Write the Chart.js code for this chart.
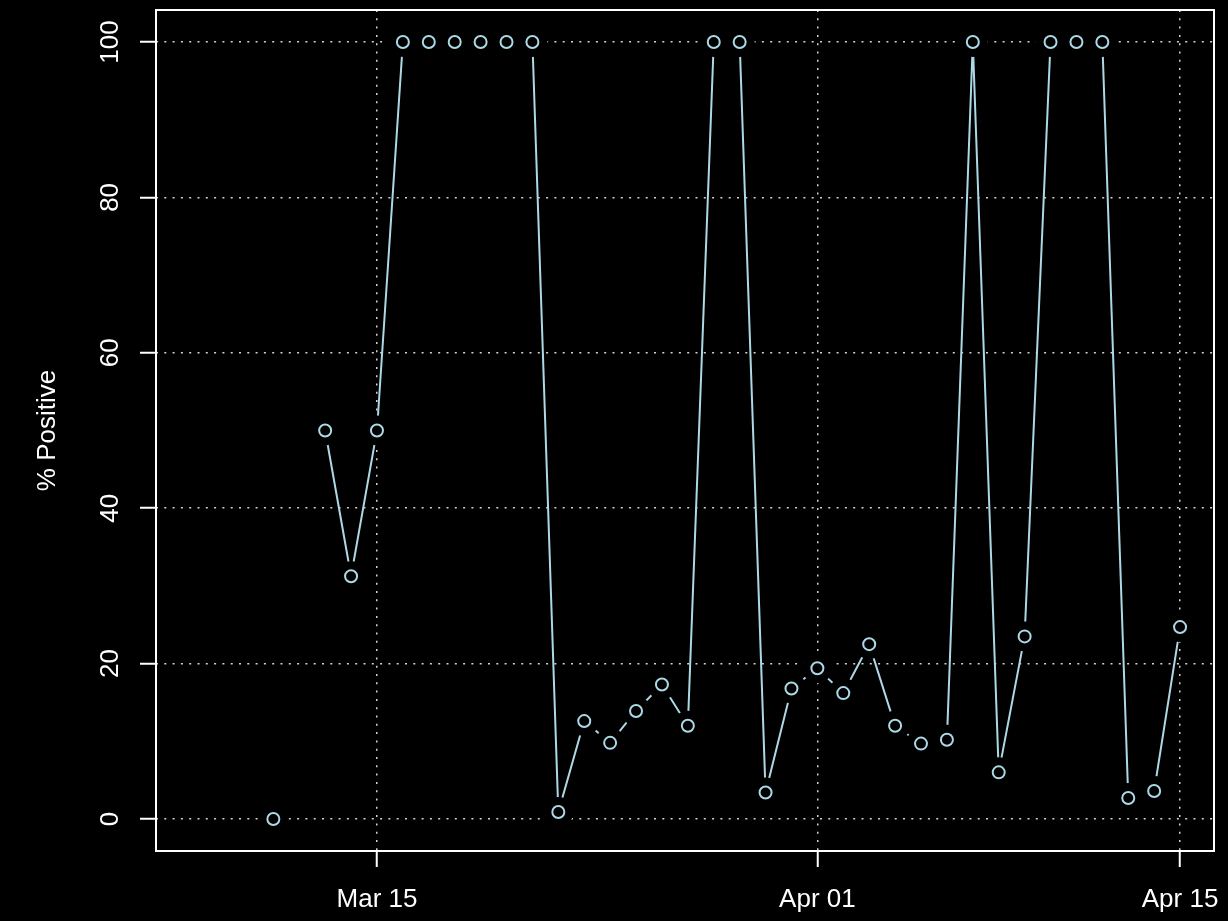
<!DOCTYPE html>
<html>
<head>
<meta charset="utf-8">
<script src="https://cdn.jsdelivr.net/npm/chart.js@4"></script>
<style>
  html, body { margin: 0; padding: 0; background: #000; }
  canvas { display: block; }
</style>
</head>
<body>
<canvas id="posChart" width="1228" height="921"></canvas>
<script>
// data (one value per day, null = no result that day)
const dates = [
    '2020-03-11', '2020-03-12', '2020-03-13', '2020-03-14', '2020-03-15', '2020-03-16',
    '2020-03-17', '2020-03-18', '2020-03-19', '2020-03-20', '2020-03-21', '2020-03-22',
    '2020-03-23', '2020-03-24', '2020-03-25', '2020-03-26', '2020-03-27', '2020-03-28',
    '2020-03-29', '2020-03-30', '2020-03-31', '2020-04-01', '2020-04-02', '2020-04-03',
    '2020-04-04', '2020-04-05', '2020-04-06', '2020-04-07', '2020-04-08', '2020-04-09',
    '2020-04-10', '2020-04-11', '2020-04-12', '2020-04-13', '2020-04-14', '2020-04-15'
];
const pctPositive = [
    0, null, 50, 31.25, 50, 100,
    100, 100, 100, 100, 100, 0.9,
    12.6, 9.8, 13.9, 17.3, 12.0, 100,
    100, 3.4, 16.8, 19.4, 16.2, 22.5,
    12.0, 9.7, 10.2, 100, 6.0, 23.5,
    100, 100, 100, 2.7, 3.6, 24.7
];
const xTickDates = ['2020-03-15', '2020-04-01', '2020-04-15'];
const xTickLabels = ['Mar 15', 'Apr 01', 'Apr 15'];
const yTicks = [0, 20, 40, 60, 80, 100];
const yTitle = '% Positive';

const LINE_COLOR = '#ADD8E6';
const FONT = '26px "Liberation Sans", Arial, sans-serif';

// days counted from Mar 15
const origin = Date.UTC(2020, 2, 15);
function dayNum(s) {
    const p = s.split('-').map(Number);
    return (Date.UTC(p[0], p[1] - 1, p[2]) - origin) / 86400000;
}

const points = dates.map((d, i) => ({ x: dayNum(d), y: pctPositive[i] }));
const xTicks = xTickDates.map(dayNum);

// frame and rotated labels, the way base R draws them
const framePlugin = {
    id: 'frame',
    afterDraw(chart) {
        const ctx = chart.ctx;
        const area = chart.chartArea;
        const xs = chart.scales.x;
        const ys = chart.scales.y;
        ctx.save();
        ctx.strokeStyle = '#ffffff';
        ctx.lineWidth = 2;
        ctx.strokeRect(area.left, area.top, area.right - area.left, area.bottom - area.top);

        ctx.fillStyle = '#ffffff';
        ctx.font = FONT;
        ctx.textAlign = 'center';
        ctx.textBaseline = 'alphabetic';
        xTicks.forEach((v, i) => {
            ctx.fillText(xTickLabels[i], xs.getPixelForValue(v), 907);
        });

        yTicks.forEach(v => {
            ctx.save();
            ctx.translate(118, ys.getPixelForValue(v));
            ctx.rotate(-Math.PI / 2);
            ctx.fillText(String(v), 0, 0);
            ctx.restore();
        });

        ctx.save();
        ctx.translate(55, (area.top + area.bottom) / 2);
        ctx.rotate(-Math.PI / 2);
        ctx.fillText(yTitle, 0, 0);
        ctx.restore();
        ctx.restore();
    }
};

const gridOpts = {
    color: '#D3D3D3',
    lineWidth: 1.5,
    tickColor: '#ffffff',
    tickWidth: 2,
    tickLength: 16,
    tickBorderDash: []
};

new Chart(document.getElementById('posChart'), {
    type: 'line',
    data: {
        datasets: [
            {
                // open circles on top
                data: points,
                showLine: false,
                pointRadius: 6,
                pointBorderWidth: 2,
                pointBorderColor: LINE_COLOR,
                pointBackgroundColor: 'rgba(0,0,0,0)',
                order: 0
            },
            {
                // black discs to cut the line short around each point (type = "b")
                data: points,
                showLine: false,
                pointRadius: 15,
                pointBorderWidth: 0,
                pointBackgroundColor: '#000000',
                pointBorderColor: '#000000',
                order: 1
            },
            {
                data: points,
                borderColor: LINE_COLOR,
                borderWidth: 2,
                pointRadius: 0,
                tension: 0,
                spanGaps: false,
                order: 2
            }
        ]
    },
    options: {
        responsive: false,
        animation: false,
        devicePixelRatio: 1,
        layout: { autoPadding: false, padding: { top: 10, right: 14, left: 0, bottom: 0 } },
        plugins: {
            legend: { display: false },
            tooltip: { enabled: false }
        },
        scales: {
            x: {
                type: 'linear',
                min: -8.53,
                max: 32.31,
                z: 1,
                grid: gridOpts,
                border: { display: false, dash: [2, 6.3] },
                ticks: { display: false, autoSkip: false },
                afterBuildTicks(scale) {
                    scale.ticks = xTicks.map(v => ({ value: v }));
                },
                afterFit(scale) {
                    scale.height = 70;
                }
            },
            y: {
                type: 'linear',
                min: -4.12,
                max: 104.12,
                z: 1,
                grid: gridOpts,
                border: { display: false, dash: [2, 6.3] },
                ticks: { display: false },
                afterBuildTicks(scale) {
                    scale.ticks = yTicks.map(v => ({ value: v }));
                },
                afterFit(scale) {
                    scale.width = 156;
                }
            }
        }
    },
    plugins: [framePlugin]
});
</script>
</body>
</html>
